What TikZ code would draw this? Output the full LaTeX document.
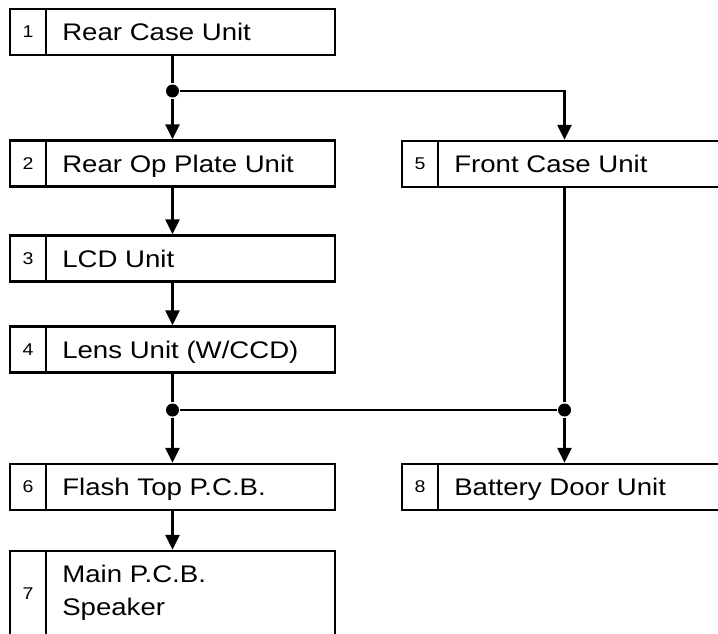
\documentclass[tikz,border=0pt]{standalone}
\usepackage{fontspec}
\setmainfont{Liberation Sans}[FakeStretch=1.15]
\usetikzlibrary{arrows.meta, positioning}

\begin{document}
\begin{tikzpicture}[x=1pt, y=1pt, line width=2.3pt,
  unit/.style={rectangle, draw, minimum width=325pt, minimum height=46pt, inner sep=0pt},
  num/.style={rectangle, draw, minimum width=36pt, minimum height=46pt, inner sep=0pt,
              font=\fontsize{17}{20}\selectfont},
  txt/.style={inner xsep=14pt, inner ysep=0pt, align=left, text height=17.2pt, text depth=0pt,
              font=\fontsize{24}{33}\selectfont},
  dot/.style={circle, fill, inner sep=0pt, minimum size=13pt},
  arr/.style={-{Triangle[width=14pt, length=15pt]}}
]
\useasboundingbox (0,0) rectangle (718,-634);

% left column
\node[unit] (b1) at (172.5,-32) {};
\node[num, anchor=west] (n1) at (b1.west) {1};
\node[txt, right=0pt of n1] (t1) {Rear Case Unit};

\node[unit] (b2) at (172.5,-163.5) {};
\node[num, anchor=west] (n2) at (b2.west) {2};
\node[txt, right=0pt of n2] (t2) {Rear Op Plate Unit};

\node[unit] (b3) at (172.5,-258.5) {};
\node[num, anchor=west] (n3) at (b3.west) {3};
\node[txt, right=0pt of n3] (t3) {LCD Unit};

\node[unit] (b4) at (172.5,-349.5) {};
\node[num, anchor=west] (n4) at (b4.west) {4};
\node[txt, right=0pt of n4] (t4) {Lens Unit (W/CCD)};

\node[unit] (b6) at (172.5,-487) {};
\node[num, anchor=west] (n6) at (b6.west) {6};
\node[txt, right=0pt of n6] (t6) {Flash Top P.C.B.};

\node[unit, minimum height=85pt] (b7) at (172.5,-593.5) {};
\node[num, minimum height=85pt, anchor=west] (n7) at (b7.west) {7};
\node[txt, text height=50.2pt, text depth=7.2pt, right=0pt of n7] (t7) {Main P.C.B.\\Speaker};

% right column
\node[unit] (b5) at (564.5,-164) {};
\node[num, anchor=west] (n5) at (b5.west) {5};
\node[txt, right=0pt of n5] (t5) {Front Case Unit};

\node[unit] (b8) at (564.5,-487) {};
\node[num, anchor=west] (n8) at (b8.west) {8};
\node[txt, right=0pt of n8] (t8) {Battery Door Unit};

% junctions
\node[dot] (j1) at (172.5,-91) {};
\node[dot] (j2) at (172.5,-410) {};
\node[dot] (j3) at (564.5,-410) {};

\draw (b1) -- (j1);
\draw[arr] (j1) -- (b2);
\draw[arr] (j1) -| (b5);
\draw[arr] (b2) -- (b3);
\draw[arr] (b3) -- (b4);
\draw (b4) -- (j2);
\draw (b5) -- (j3);
\draw (j2) -- (j3);
\draw[arr] (j2) -- (b6);
\draw[arr] (j3) -- (b8);
\draw[arr] (b6) -- (b7);
\end{tikzpicture}
\end{document}
